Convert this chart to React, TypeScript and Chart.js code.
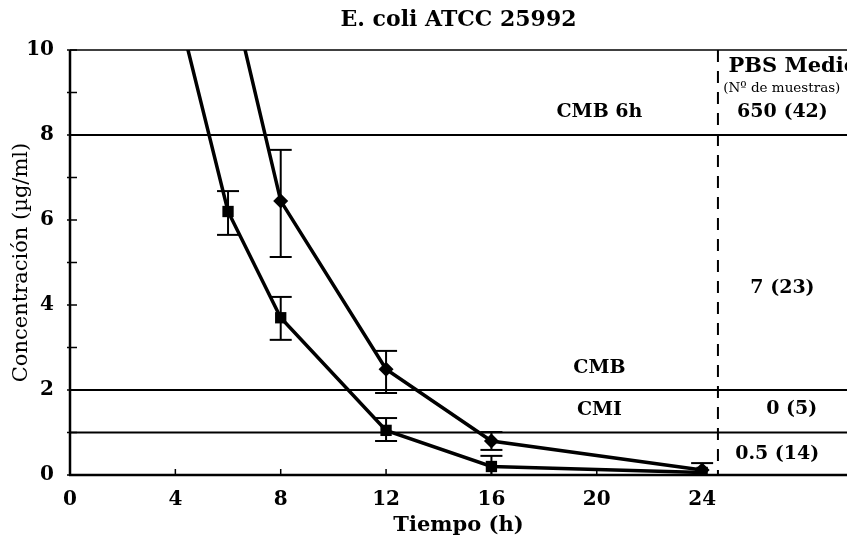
import React, { useEffect, useRef } from "react";
import { Chart, registerables } from "chart.js";

Chart.register(...registerables);

// ---- data ----
const timesSquare = [4, 6, 8, 12, 16, 24];
const concSquare = [11.2, 6.2, 3.7, 1.05, 0.2, 0.06];
const errLowSquare = [null, 5.65, 3.18, 0.8, 0.0, null];
const errHighSquare = [null, 6.68, 4.19, 1.34, 0.45, null];

const timesDiamond = [6, 8, 12, 16, 24];
const concDiamond = [11.7, 6.45, 2.49, 0.8, 0.12];
const errLowDiamond = [null, 5.13, 1.93, 0.59, 0.0];
const errHighDiamond = [null, 7.65, 2.92, 1.01, 0.28];

const xTicks = [0, 4, 8, 12, 16, 20, 24];
const yTickLabels = [0, 2, 4, 6, 8, 10];
const thresholdLines = [8, 2, 1];
const dividerTime = 24.6;

const titleText = "E. coli ATCC 25992";
const xTitle = "Tiempo (h)";
const yTitle = "Concentración (µg/ml)";
const regionLabels = ["CMB 6h", "CMB", "CMI"];
const pbsHeader = "PBS Medio";
const pbsSubHeader = "(Nº de muestras)";
const pbsCounts = ["650 (42)", "7 (23)", "0 (5)", "0.5 (14)"];

const SERIF = '"DejaVu Serif", serif';

const decorPlugin = {
  id: "decor",
  beforeDatasetsDraw(chart: any) {
    const { ctx, chartArea: a, scales } = chart;
    const x = scales.x;
    const y = scales.y;
    const seg = (x1: number, y1: number, x2: number, y2: number) => {
      ctx.beginPath();
      ctx.moveTo(x1, y1);
      ctx.lineTo(x2, y2);
      ctx.stroke();
    };
    ctx.save();
    ctx.strokeStyle = "#000";
    ctx.lineCap = "butt";
    // threshold lines
    ctx.lineWidth = 2;
    thresholdLines.forEach((v) => {
      const py = y.getPixelForValue(v);
      seg(a.left, py, a.right, py);
    });
    // top frame
    ctx.lineWidth = 1.5;
    seg(a.left, a.top, a.right, a.top);
    // axes
    ctx.lineWidth = 2.5;
    seg(a.left, a.top, a.left, a.bottom + 1);
    seg(a.left - 1, a.bottom, a.right, a.bottom);
    // y tick marks (every unit, inward)
    ctx.lineWidth = 1.5;
    for (let v = y.min; v <= y.max; v += 1) {
      const py = y.getPixelForValue(v);
      seg(a.left - 3, py, a.left + 7, py);
    }
    // x tick marks (upward)
    xTicks.slice(1).forEach((v) => {
      const px = x.getPixelForValue(v);
      seg(px, a.bottom, px, a.bottom - 6);
    });
    // dashed divider
    ctx.lineWidth = 2;
    ctx.setLineDash([12, 9]);
    const dx = x.getPixelForValue(dividerTime);
    seg(dx, a.top, dx, a.bottom);
    ctx.setLineDash([]);
    ctx.restore();
  },
  afterDatasetsDraw(chart: any) {
    const { ctx, chartArea: a, scales } = chart;
    const x = scales.x;
    const y = scales.y;
    ctx.save();
    ctx.strokeStyle = "#000";
    ctx.fillStyle = "#000";
    // error bars
    const drawErr = (ts: number[], lo: any[], hi: any[]) => {
      ts.forEach((t, i) => {
        if (lo[i] == null || hi[i] == null) return;
        const px = x.getPixelForValue(t);
        const pl = y.getPixelForValue(lo[i]);
        const ph = y.getPixelForValue(hi[i]);
        ctx.lineWidth = 2;
        ctx.beginPath();
        ctx.moveTo(px, pl);
        ctx.lineTo(px, ph);
        ctx.stroke();
        [pl, ph].forEach((p) => {
          if (p > a.bottom - 0.5) return;
          ctx.beginPath();
          ctx.moveTo(px - 11, p);
          ctx.lineTo(px + 11, p);
          ctx.stroke();
        });
      });
    };
    drawErr(timesSquare, errLowSquare, errHighSquare);
    drawErr(timesDiamond, errLowDiamond, errHighDiamond);

    const text = (s: string, px: number, py: number, font: string, align: CanvasTextAlign = "center") => {
      ctx.font = font;
      ctx.textAlign = align;
      ctx.textBaseline = "middle";
      ctx.fillText(s, px, py);
    };
    const bold19 = `bold 19px ${SERIF}`;
    // region labels (CMB 6h, CMB, CMI)
    const regionPos = [8.54, 2.52, 1.53];
    regionLabels.forEach((s, i) => text(s, x.getPixelForValue(20.1), y.getPixelForValue(regionPos[i]), bold19));
    // PBS column
    text(pbsHeader, x.getPixelForValue(25.0), y.getPixelForValue(9.6), `bold 21px ${SERIF}`, "left");
    text(pbsSubHeader, x.getPixelForValue(24.8), y.getPixelForValue(9.1), `13.5px ${SERIF}`, "left");
    const countPos = [
      [27.05, 8.54],
      [27.05, 4.4],
      [27.4, 1.55],
      [26.85, 0.5],
    ];
    pbsCounts.forEach((s, i) =>
      text(s, x.getPixelForValue(countPos[i][0]), y.getPixelForValue(countPos[i][1]), bold19)
    );
    // chart title and axis titles
    const cx = (a.left + a.right) / 2;
    text(titleText, cx, 20, `bold 22px ${SERIF}`);
    text(xTitle, cx, 526, `bold 21px ${SERIF}`);
    ctx.save();
    ctx.translate(22, (a.top + a.bottom) / 2);
    ctx.rotate(-Math.PI / 2);
    text(yTitle, 0, 0, `21px ${SERIF}`);
    ctx.restore();
    ctx.restore();
  },
};

export default function App() {
  const ref = useRef<HTMLCanvasElement | null>(null);
  useEffect(() => {
    if (!ref.current) return;
    const chart = new Chart(ref.current, {
      type: "line",
      data: {
        datasets: [
          {
            data: timesSquare.map((t, i) => ({ x: t, y: concSquare[i] })),
            borderColor: "#000",
            backgroundColor: "#000",
            borderWidth: 3.5,
            pointStyle: "rect",
            pointRadius: 8,
            pointBorderWidth: 0,
            tension: 0,
            clip: 0,
          },
          {
            data: timesDiamond.map((t, i) => ({ x: t, y: concDiamond[i] })),
            borderColor: "#000",
            backgroundColor: "#000",
            borderWidth: 3.5,
            pointStyle: "rectRot",
            pointRadius: 7.5,
            pointBorderWidth: 0,
            tension: 0,
            clip: 0,
          },
        ] as any,
      },
      options: {
        animation: false,
        responsive: true,
        maintainAspectRatio: false,
        layout: { autoPadding: false, padding: { top: 50, right: 0, left: 0, bottom: 0 } },
        plugins: {
          legend: { display: false },
          title: { display: false },
          tooltip: { enabled: false },
        },
        scales: {
          x: {
            type: "linear",
            min: 0,
            max: 29.5,
            afterBuildTicks: (s: any) => {
              s.ticks = xTicks.map((v) => ({ value: v }));
            },
            afterFit: (s: any) => {
              s.height = 66;
              s.paddingRight = 0;
              s.paddingLeft = 0;
            },
            ticks: {
              autoSkip: false,
              maxRotation: 0,
              padding: 5,
              color: "#000",
              font: { family: SERIF, size: 20, weight: "bold" },
            },
            grid: { display: false },
            border: { display: false },
          },
          y: {
            type: "linear",
            min: 0,
            max: 10,
            afterBuildTicks: (s: any) => {
              s.ticks = yTickLabels.map((v) => ({ value: v }));
            },
            afterFit: (s: any) => {
              s.width = 70;
              s.paddingTop = 0;
              s.paddingBottom = 0;
            },
            ticks: {
              autoSkip: false,
              padding: 8,
              color: "#000",
              font: { family: SERIF, size: 20, weight: "bold" },
            },
            grid: { display: false },
            border: { display: false },
          },
        },
      } as any,
      plugins: [decorPlugin],
    });
    return () => chart.destroy();
  }, []);
  return (
    <div style={{ position: "fixed", left: 0, top: 0, width: 847, height: 541, background: "#fff" }}>
      <canvas ref={ref} />
    </div>
  );
}
